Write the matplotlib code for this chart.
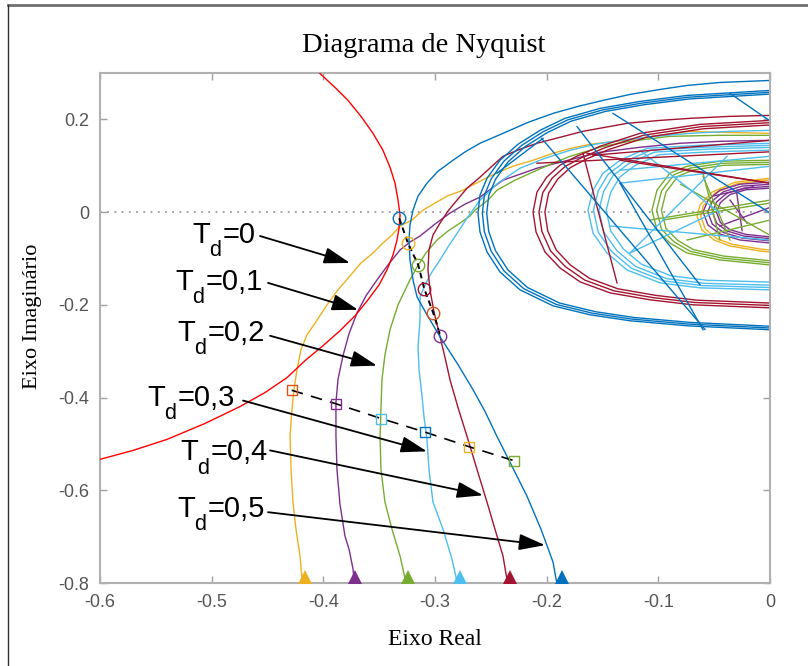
import numpy as np
import matplotlib.pyplot as plt
from matplotlib.lines import Line2D

plt.rcParams['font.family'] = 'Liberation Sans'

# MATLAB default colour order
BLUE = '#0072BD'
ORANGE = '#D95319'
YELLOW = '#EDB120'
PURPLE = '#7E2F8E'
GREEN = '#77AC30'
LBLUE = '#4DBEEE'
DRED = '#A2142F'
RED = '#FF0000'

# ---- red reference circle ----
red_x = [-0.4066, -0.4030, -0.3895, -0.3779, -0.3663, -0.3555, -0.3466, -0.3403, -0.3358,
         -0.3331, -0.3313, -0.3322, -0.3340, -0.3376, -0.3430, -0.3501, -0.3600, -0.3716,
         -0.3851, -0.4003, -0.4164, -0.4325, -0.4522, -0.4746, -0.5060, -0.5400, -0.5704,
         -0.6000, -0.6179]
red_y = [0.3097, 0.2989, 0.2688, 0.2409, 0.2065, 0.1699, 0.1333, 0.0968, 0.0624,
         0.0258, -0.0065, -0.0344, -0.0602, -0.0925, -0.1247, -0.1570, -0.1892, -0.2237,
         -0.2559, -0.2882, -0.3204, -0.3570, -0.3892, -0.4194, -0.4559, -0.4903, -0.5140,
         -0.5333, -0.5462]

# ---- Nyquist curves, low-frequency part (bottom of the view up to the right edge) ----
td0_x = [-0.4182, -0.4209, -0.4245, -0.4272, -0.4289, -0.4298, -0.4281, -0.4263, -0.4236,
         -0.4200, -0.4146, -0.4066, -0.3967, -0.3869, -0.3761, -0.3663, -0.3555, -0.3466,
         -0.3376, -0.3313, -0.3206, -0.3107, -0.3000, -0.2892, -0.2749, -0.2597, -0.2454,
         -0.2301, -0.2122, -0.1943, -0.1782, -0.1612, -0.1298, -0.0985, -0.0716, -0.0448,
         0.0, 0.0179]
td0_y = [-0.8129, -0.7419, -0.6839, -0.6258, -0.5548, -0.4839, -0.4258, -0.3828, -0.3398,
         -0.2968, -0.2645, -0.2366, -0.2000, -0.1677, -0.1376, -0.1097, -0.0882, -0.0667,
         -0.0473, -0.0301, -0.0172, 0.0043, 0.0194, 0.0344, 0.0473, 0.0667, 0.0839,
         0.0989, 0.1118, 0.1269, 0.1376, 0.1462, 0.1548, 0.1656, 0.1742, 0.1720,
         0.1699, 0.1677]

td1_x = [-0.3716, -0.3734, -0.3770, -0.3806, -0.3851, -0.3878, -0.3887, -0.3887, -0.3869,
         -0.3824, -0.3770, -0.3698, -0.3618, -0.3519, -0.3421, -0.3313, -0.3224, -0.3134,
         -0.3000, -0.2866, -0.2731, -0.2597, -0.2490, -0.2391, -0.2239, -0.2087, -0.1809,
         -0.1522, -0.1164, -0.0806, -0.0448, 0.0, 0.0179]
td1_y = [-0.8237, -0.7699, -0.7269, -0.6989, -0.6301, -0.5548, -0.4839, -0.4108, -0.3613,
         -0.3097, -0.2624, -0.2172, -0.1806, -0.1462, -0.1140, -0.0817, -0.0645, -0.0516,
         -0.0258, -0.0022, 0.0172, 0.0323, 0.0516, 0.0688, 0.0817, 0.0946, 0.1118,
         0.1290, 0.1398, 0.1484, 0.1527, 0.1548, 0.1548]

td2_x = [-0.3242, -0.3277, -0.3313, -0.3385, -0.3448, -0.3484, -0.3492, -0.3484, -0.3475,
         -0.3448, -0.3403, -0.3331, -0.3224, -0.3161, -0.3081, -0.2982, -0.2884, -0.2776,
         -0.2687, -0.2642, -0.2525, -0.2445, -0.2284, -0.2087, -0.1943, -0.1791, -0.1639,
         -0.1495, -0.1254, -0.0896, -0.0448, 0.0, 0.0179]
td2_y = [-0.8237, -0.7806, -0.7419, -0.6839, -0.6258, -0.5548, -0.4839, -0.4258, -0.3613,
         -0.3075, -0.2538, -0.2000, -0.1462, -0.1183, -0.0882, -0.0602, -0.0409, -0.0237,
         -0.0086, 0.0043, 0.0258, 0.0473, 0.0688, 0.0903, 0.1054, 0.1204, 0.1312,
         0.1419, 0.1527, 0.1634, 0.1656, 0.1656, 0.1656]

td3_x = [-0.2776, -0.2812, -0.2848, -0.2928, -0.3018, -0.3054, -0.3072, -0.3098, -0.3116,
         -0.3143, -0.3152, -0.3134, -0.3134, -0.3081, -0.3027, -0.2955, -0.2884, -0.2812,
         -0.2713, -0.2597, -0.2436, -0.2239, -0.2015, -0.1791, -0.1567, -0.1343, -0.1030,
         -0.0716, -0.0358, 0.0, 0.0179]
td3_y = [-0.8237, -0.7871, -0.7484, -0.6839, -0.6258, -0.5548, -0.4903, -0.4430, -0.3978,
         -0.3398, -0.2903, -0.2323, -0.1828, -0.1527, -0.1290, -0.1032, -0.0753, -0.0495,
         -0.0129, 0.0258, 0.0624, 0.0946, 0.1161, 0.1333, 0.1462, 0.1548, 0.1634,
         0.1699, 0.1742, 0.1763, 0.1763]

td4_x = [-0.2328, -0.2364, -0.2391, -0.2463, -0.2534, -0.2624, -0.2713, -0.2794, -0.2866,
         -0.2910, -0.2955, -0.3009, -0.3045, -0.3063, -0.3054, -0.3018, -0.2955, -0.2884,
         -0.2803, -0.2713, -0.2597, -0.2490, -0.2391, -0.2239, -0.2087, -0.1881, -0.1675,
         -0.1478, -0.1281, -0.0985, -0.0716, -0.0358, 0.0, 0.0179]
td4_y = [-0.8237, -0.7806, -0.7419, -0.6839, -0.6258, -0.5548, -0.4839, -0.4215, -0.3613,
         -0.3140, -0.2688, -0.2151, -0.1677, -0.1247, -0.0817, -0.0495, -0.0237, 0.0022,
         0.0258, 0.0516, 0.0753, 0.0989, 0.1204, 0.1355, 0.1484, 0.1613, 0.1742,
         0.1828, 0.1914, 0.1978, 0.2022, 0.2065, 0.2086, 0.2086]

td5_x = [-0.1881, -0.1916, -0.1943, -0.2051, -0.2176, -0.2310, -0.2445, -0.2552, -0.2660,
         -0.2794, -0.2955, -0.3072, -0.3161, -0.3197, -0.3224, -0.3233, -0.3224, -0.3197,
         -0.3152, -0.3072, -0.2973, -0.2839, -0.2722, -0.2597, -0.2391, -0.2167, -0.1943,
         -0.1719, -0.1495, -0.1254, -0.0985, -0.0743, -0.0448, 0.0, 0.0179]
td5_y = [-0.8237, -0.7914, -0.7548, -0.6839, -0.6129, -0.5484, -0.4839, -0.4301, -0.3828,
         -0.3290, -0.2688, -0.2215, -0.1828, -0.1462, -0.1032, -0.0602, -0.0280, 0.0043,
         0.0344, 0.0624, 0.0882, 0.1118, 0.1312, 0.1484, 0.1699, 0.1935, 0.2129,
         0.2280, 0.2409, 0.2538, 0.2645, 0.2731, 0.2796, 0.2839, 0.2839]

# ---- high-frequency loop round the origin (left half; the rest lies at Re > 0) ----
td0_loop_x = [0.0179, 0.0, -0.0313, -0.0519, -0.0627, -0.0654, -0.0609, -0.0501, -0.0358,
              -0.0090, 0.0, 0.0179]
td0_loop_y = [0.0753, 0.0731, 0.0645, 0.0430, 0.0151, -0.0086, -0.0387, -0.0602, -0.0731,
              -0.0839, -0.0860, -0.0882]
td1_loop_x = [0.0179, 0.0, -0.0269, -0.0448, -0.0555, -0.0600, -0.0555, -0.0448, -0.0269,
              0.0, 0.0179]
td1_loop_y = [0.0667, 0.0645, 0.0602, 0.0473, 0.0258, 0.0, -0.0280, -0.0473, -0.0602,
              -0.0667, -0.0688]
td2_loop_x = [0.0179, 0.0, -0.0448, -0.0743, -0.0896, -0.1012, -0.1057, -0.1012, -0.0896,
              -0.0743, -0.0448, 0.0, 0.0179]
td2_loop_y = [0.1118, 0.1118, 0.1097, 0.0989, 0.0839, 0.0473, 0.0043, -0.0387, -0.0667,
              -0.0882, -0.1032, -0.1140, -0.1140]
td3_loop_x = [0.0179, 0.0, -0.0627, -0.1101, -0.1343, -0.1495, -0.1585, -0.1630, -0.1585,
              -0.1460, -0.1281, -0.0985, -0.0627, 0.0, 0.0179]
td3_loop_y = [0.1484, 0.1484, 0.1441, 0.1376, 0.1118, 0.0839, 0.0473, 0.0043, -0.0452,
              -0.0882, -0.1247, -0.1527, -0.1634, -0.1677, -0.1677]
td4_loop_x = [0.0179, 0.0, -0.0627, -0.1164, -0.1522, -0.1731, -0.1881, -0.2000, -0.2087,
              -0.2122, -0.2095, -0.2015, -0.1881, -0.1701, -0.1433, -0.1075, -0.0690, 0.0, 0.0179]
td4_loop_y = [0.1978, 0.1978, 0.1892, 0.1699, 0.1419, 0.1204, 0.1011, 0.0753, 0.0430,
              0.0, -0.0430, -0.0860, -0.1204, -0.1505, -0.1742, -0.1892, -0.2000, -0.2065, -0.2065]
td5_loop_x = [0.0179, 0.0, -0.0743, -0.1164, -0.1522, -0.1836, -0.2060, -0.2257, -0.2418,
              -0.2534, -0.2597, -0.2615, -0.2597, -0.2534, -0.2418, -0.2239, -0.1943, -0.1612,
              -0.1254, -0.0743, 0.0, 0.0179]
td5_loop_y = [0.2624, 0.2624, 0.2516, 0.2387, 0.2237, 0.2022, 0.1763, 0.1462, 0.1118,
              0.0731, 0.0366, -0.0022, -0.0430, -0.0860, -0.1290, -0.1677, -0.2022, -0.2215,
              -0.2344, -0.2452, -0.2538, -0.2538]

# relative size of the successive turns that make up each loop band
td0_turns = [1.0, 0.95]
td1_turns = [1.0, 0.93, 0.86, 0.80]
td2_turns = [1.0, 0.96, 0.92]
td3_turns = [1.0, 0.97, 0.94, 0.90]
td4_turns = [1.0, 0.975, 0.95]
td5_turns = [1.0, 0.985, 0.97]

# coarse-sampling chords inside the loops: (x0, y0, x1, y1)
td1_chords = [(-0.0358, 0.0258, -0.0206, -0.0237), (-0.050, 0.035, -0.015, 0.055),
              (-0.030, 0.045, -0.025, -0.040), (-0.045, -0.030, 0.0, 0.010)]
td2_chords = [(-0.060, 0.0839, -0.0448, -0.0602), (-0.1075, -0.0172, 0.0, 0.0258),
              (-0.080, 0.060, 0.0, -0.050), (-0.0961, -0.0172, 0.0, 0.0194),
              (-0.0600, 0.0774, -0.0358, -0.0602), (-0.0743, -0.0602, 0.0, -0.0172)]
td3_chords = [(-0.1343, 0.0903, 0.0, 0.1204), (-0.0385, 0.1204, -0.1254, -0.0882),
              (-0.1254, -0.0882, -0.051, -0.0022), (-0.1343, 0.0624, 0.0, 0.0989),
              (-0.1164, 0.1333, -0.0448, -0.0022), (-0.1433, -0.0300, 0.0, -0.0602)]
td4_chords = [(-0.1675, 0.1269, -0.137, -0.1527), (-0.1639, 0.1269, 0.0, 0.0624),
              (-0.1585, 0.1226, 0.0, 0.1548), (-0.1343, 0.1118, 0.0, 0.0624),
              (-0.2087, 0.1054, 0.0, 0.130)]
td5_chords = [(-0.2045, 0.1591, -0.0582, -0.2531), (-0.1728, 0.1843, -0.0627, -0.157),
              (-0.0358, 0.2559, 0.01, 0.180), (-0.2445, 0.0839, -0.2033, 0.1591),
              (-0.1406, 0.2129, 0.0, -0.002), (-0.1343, 0.0624, -0.060, -0.2538)]

# direction arrows where each curve leaves the bottom of the view
arrow_x = [-0.4164, -0.3716, -0.3242, -0.2776, -0.2328, -0.1863]
arrow_y = [-0.786] * 6

# crossing points (circles) and equal-frequency points (squares)
circ_x = [-0.332, -0.3244, -0.315, -0.3096, -0.3015, -0.2952]
circ_y = [-0.0135, -0.066, -0.114, -0.1656, -0.218, -0.2667]
circ_c = [BLUE, YELLOW, GREEN, DRED, ORANGE, PURPLE]
sq_x = [-0.4283, -0.3886, -0.3483, -0.3089, -0.2695, -0.2295]
sq_y = [-0.3843, -0.4135, -0.4452, -0.4746, -0.506, -0.5361]
sq_c = [ORANGE, PURPLE, LBLUE, BLUE, YELLOW, GREEN]

# annotation labels: text position, arrow start, arrow tip
labels = ['0', '0,1', '0,2', '0,3', '0,4', '0,5']
label_pos = [(-0.5176, -0.0667), (-0.5328, -0.1677), (-0.531, -0.2774),
             (-0.5579, -0.4172), (-0.5283, -0.5355), (-0.531, -0.6581)]
arrow_from = [(-0.4567, -0.0516), (-0.4495, -0.1527), (-0.4477, -0.2667),
              (-0.4719, -0.4065), (-0.4477, -0.514), (-0.4495, -0.6473)]
arrow_to = [(-0.3761, -0.1097), (-0.3689, -0.2108), (-0.3519, -0.3312),
            (-0.3072, -0.5161), (-0.257, -0.6108), (-0.2015, -0.7183)]

curves = [
    (td0_x, td0_y, td0_loop_x, td0_loop_y, td0_turns, [], YELLOW),
    (td1_x, td1_y, td1_loop_x, td1_loop_y, td1_turns, td1_chords, PURPLE),
    (td2_x, td2_y, td2_loop_x, td2_loop_y, td2_turns, td2_chords, GREEN),
    (td3_x, td3_y, td3_loop_x, td3_loop_y, td3_turns, td3_chords, LBLUE),
    (td4_x, td4_y, td4_loop_x, td4_loop_y, td4_turns, td4_chords, DRED),
    (td5_x, td5_y, td5_loop_x, td5_loop_y, td5_turns, td5_chords, BLUE),
]

fig = plt.figure(figsize=(8.08, 6.66), dpi=100)
ax = fig.add_axes([100 / 808, 1 - 583 / 666, 670 / 808, 510 / 666])

ax.axhline(0, color='#9a9a9a', lw=1.3, ls=(0, (1, 3)), zorder=1)

for xs, ys, lx, ly, turns, chords, col in curves:
    px = list(xs)
    py = list(ys)
    for s in turns:
        px += [s * v for v in lx]
        py += [s * v for v in ly]
    ax.plot(px, py, color=col, lw=1.0, zorder=2)
    for x0, y0, x1, y1 in chords:
        ax.plot([x0, x1], [y0, y1], color=col, lw=1.0, zorder=2)

for x, y, col in zip(arrow_x, arrow_y, [YELLOW, PURPLE, GREEN, LBLUE, DRED, BLUE]):
    ax.plot(x, y, marker='^', ms=10, color=col, mew=0, zorder=3)

ax.plot(red_x, red_y, color=RED, lw=1.0, zorder=3)

ax.plot(circ_x, circ_y, color='k', lw=1.4, ls=(0, (3, 2)), zorder=4)
for x, y, col in zip(circ_x, circ_y, circ_c):
    ax.plot(x, y, marker='o', ms=9, mfc='none', mec=col, mew=1.0, zorder=5)
ax.plot(sq_x, sq_y, color='k', lw=1.2, ls=(0, (7, 5)), zorder=4)
for x, y, col in zip(sq_x, sq_y, sq_c):
    ax.plot(x, y, marker='s', ms=7.5, mfc='none', mec=col, mew=1.0, zorder=5)

# "T_d=..." labels: subscript d set as its own smaller, lowered text
for lab, (tx, ty), a0, a1 in zip(labels, label_pos, arrow_from, arrow_to):
    ax.annotate('T', (tx, ty), fontsize=21, ha='left', va='baseline', zorder=6)
    ax.annotate('d', (tx, ty), xytext=(12.6, -9.5), textcoords='offset points',
                fontsize=15.5, ha='left', va='baseline', zorder=6)
    ax.annotate('=' + lab, (tx, ty), xytext=(21.8, 0), textcoords='offset points',
                fontsize=21, ha='left', va='baseline', zorder=6)
    ax.annotate('', xy=a1, xytext=a0,
                arrowprops=dict(arrowstyle='-|>,head_length=1.6,head_width=0.5',
                                color='k', lw=1.3, shrinkA=0, shrinkB=0, mutation_scale=10),
                zorder=6)

ax.set_xlim(-0.6, 0)
ax.set_ylim(-0.8, 0.3)
ax.set_xticks(np.arange(-0.6, 0.01, 0.1))
ax.set_xticklabels(['-0.6', '-0.5', '-0.4', '-0.3', '-0.2', '-0.1', '0'])
ax.set_yticks([-0.8, -0.6, -0.4, -0.2, 0, 0.2])
ax.set_yticklabels(['-0.8', '-0.6', '-0.4', '-0.2', '0', '0.2'])
ax.tick_params(direction='in', length=5, width=1, color='#a0a0a0', labelcolor='#555555',
               labelsize=13, top=True, right=True, pad=8)
for s in ax.spines.values():
    s.set_color('#b0b0b0')
    s.set_linewidth(1.5)

fig.text(424 / 808, 1 - 52 / 666, 'Diagrama de Nyquist', fontname='Liberation Serif',
         fontsize=20.5, ha='center', va='baseline')
fig.text(435 / 808, 1 - 645 / 666, 'Eixo Real', fontname='Liberation Serif',
         fontsize=17, ha='center', va='baseline')
fig.text(33 / 808, 1 - 316 / 666, 'Eixo Imaginário', fontname='Liberation Serif',
         fontsize=16, ha='center', va='center', rotation=90)

# outer frame edges
fig.add_artist(Line2D([8 / 808, 1], [1 - 5 / 666, 1 - 5 / 666], transform=fig.transFigure,
                      color='#707070', lw=2))
fig.add_artist(Line2D([8 / 808, 8 / 808], [0, 1 - 5 / 666], transform=fig.transFigure,
                      color='#303030', lw=1))

fig.savefig('out.png', dpi=100)
